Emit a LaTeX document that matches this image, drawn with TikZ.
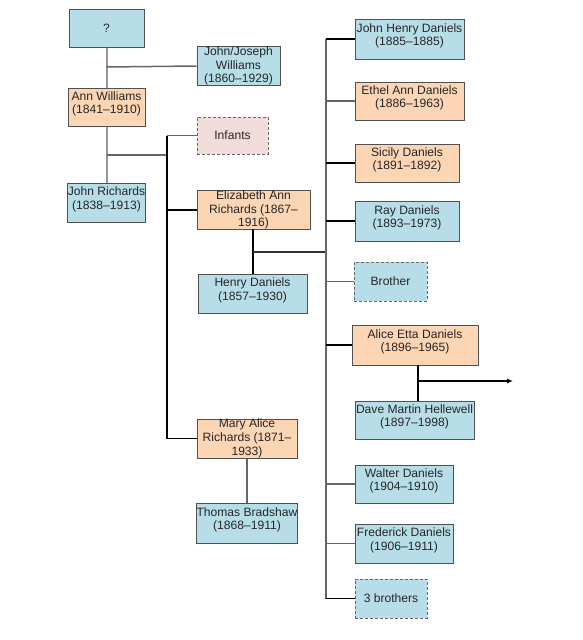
\documentclass[tikz,border=0pt]{standalone}
\usepackage{fontspec}
\setmainfont{Liberation Sans}
\usetikzlibrary{arrows.meta}
\definecolor{bfill}{HTML}{B7DEE8}
\definecolor{ofill}{HTML}{FCD5B4}
\definecolor{pfill}{HTML}{F2DCDB}
\definecolor{bord}{HTML}{505050}
\definecolor{txt}{HTML}{262626}
\definecolor{glin}{HTML}{959595}
\definecolor{dlin}{HTML}{666666}
\newcommand\lift{\\[-5pt]\mbox{}}
\begin{document}
\begin{tikzpicture}[x=1pt,y=-1pt,
  box/.style={draw=bord,line width=1pt,inner sep=0pt,align=center,text=txt,
    font=\fontsize{12.1}{13.8}\selectfont},
  bluebox/.style={box,fill=bfill},
  orbox/.style={box,fill=ofill},
  dbox/.style={box,draw=dlin,dash pattern=on 3pt off 2pt},
  sz/.style 2 args={minimum width=#1pt,minimum height=#2pt},
  gline/.style={draw=glin,line width=2pt},
  mline/.style={draw=dlin,line width=1.5pt},
  bline/.style={draw=black,line width=1.1pt}]
\useasboundingbox (0,0) rectangle (582,640);
% left family
\node[bluebox,sz={75}{38}] (q) at (106.5,28) {?};
\node[bluebox,sz={83}{38}] (jjw) at (238.5,66) {John/Joseph\\Williams\\(1860--1929)};
\node[orbox,sz={77}{38}] (ann) at (106.5,107) {Ann Williams\\(1841--1910)\lift};
\node[dbox,fill=pfill,sz={71}{37}] (inf) at (232.5,135.5) {Infants};
\node[bluebox,sz={77}{39}] (jr) at (106.5,202.5) {John Richards\\(1838--1913)\lift};
\node[orbox,sz={113}{38}] (eli) at (253.5,210) {Elizabeth Ann\\Richards (1867--\\1916)};
\node[bluebox,sz={109}{39}] (hen) at (252.5,293.5) {Henry Daniels\\(1857--1930)\lift};
\node[orbox,sz={100}{39}] (mary) at (247,438.5) {Mary Alice\\Richards (1871--\\1933)};
\node[bluebox,sz={100}{40}] (tom) at (247,523) {Thomas Bradshaw\\(1868--1911)\lift};
% right column
\node[bluebox,sz={109}{40}] (jhd) at (409.5,39) {John Henry Daniels\\(1885--1885)\lift};
\node[orbox,sz={109}{38}] (eth) at (409.5,101) {Ethel Ann Daniels\\(1886--1963)\lift};
\node[orbox,sz={104}{38}] (sic) at (407,163) {Sicily Daniels\\(1891--1892)\lift};
\node[bluebox,sz={104}{40}] (ray) at (407,221) {Ray Daniels\\(1893--1973)\lift};
\node[dbox,fill=bfill,sz={73}{39}] (bro) at (390.5,281.5) {Brother};
\node[orbox,sz={126}{40}] (ali) at (415,345) {Alice Etta Daniels\\(1896--1965)\lift};
\node[bluebox,sz={119}{38}] (dave) at (414.5,420) {Dave Martin Hellewell\\(1897--1998)\lift};
\node[bluebox,sz={98}{38}] (wal) at (404,484) {Walter Daniels\\(1904--1910)\lift};
\node[bluebox,sz={98}{39}] (fre) at (404,543.5) {Frederick Daniels\\(1906--1911)\lift};
\node[dbox,fill=bfill,sz={72}{39}] (thr) at (391,598.5) {3 brothers};
% junction coordinates
\coordinate (j1) at (106.5,67);
\coordinate (j2) at (106.5,155);
\coordinate (j3) at (167,155);
\coordinate (vtop) at (167,135.5);
\coordinate (vel) at (167,210);
\coordinate (vbot) at (167,438.5);
\coordinate (e1) at (253,229);
\coordinate (e2) at (253,252);
\coordinate (m1) at (326,252);
\coordinate (mtop) at (326,39);
\coordinate (mbot) at (326,598.5);
\coordinate (a1) at (418,365);
\coordinate (a2) at (418,381);
\coordinate (arrowend) at (513,381);
% connectors
\draw[gline] (q.south) -- (ann.north);
\draw[mline] (j1) -- (jjw.west);
\draw[gline] (ann.south) -- (jr.north);
\draw[mline] (j2) -- (j3);
\draw[bline] (vtop) -- (vbot);
\draw[mline] (vtop) -- (inf.west);
\draw[bline] (vel) -- (eli.west);
\draw[bline] (vbot) -- (mary.west);
\draw[bline] (e1) -- (e1 |- hen.north);
\draw[bline,draw=black!80] (e2) -- (m1);
\draw[mline] (mary.south) -- (tom.north);
\draw[mline] (mtop) -- (mbot);
\draw[bline] (mtop) -- (jhd.west);
\draw[mline] (mtop |- eth.west) -- (eth.west);
\draw[bline] (mtop |- sic.west) -- (sic.west);
\draw[bline] (mtop |- ray.west) -- (ray.west);
\draw[mline] (mtop |- bro.west) -- (bro.west);
\draw[bline] (mtop |- ali.west) -- (ali.west);
\draw[mline] (mtop |- wal.west) -- (wal.west);
\draw[mline] (mtop |- fre.west) -- (fre.west);
\draw[bline] (mbot) -- (thr.west);
\draw[bline] (a1) -- (a1 |- dave.north);
\draw[bline,-{Latex[length=6pt,width=5pt]}] (a2) -- (arrowend);
\end{tikzpicture}
\end{document}
